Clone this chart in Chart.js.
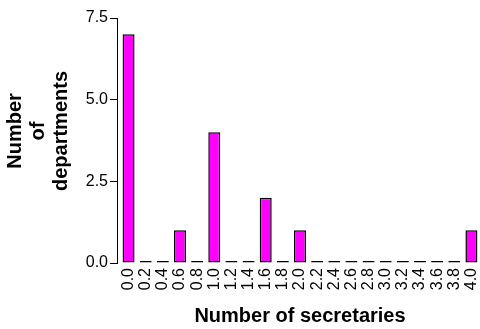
<!DOCTYPE html>
<html>
<head>
<meta charset="utf-8">
<script src="https://cdn.jsdelivr.net/npm/chart.js@4.4.1/dist/chart.umd.min.js"></script>
<style>
  html, body { margin: 0; padding: 0; background: #ffffff; }
  #wrap { width: 480px; height: 329px; }
</style>
</head>
<body>
<div id="wrap"><canvas id="chart" width="480" height="329"></canvas></div>
<script>
// Histogram: how many departments have a given number of secretaries
const secretaries = ['0.0', '0.2', '0.4', '0.6', '0.8', '1.0', '1.2', '1.4', '1.6', '1.8', '2.0',
                     '2.2', '2.4', '2.6', '2.8', '3.0', '3.2', '3.4', '3.6', '3.8', '4.0'];
const departments = [7, 0, 0, 1, 0, 4, 0, 0, 2, 0, 1, 0, 0, 0, 0, 0, 0, 0, 0, 0, 1];
const yTickValues = [0, 2.5, 5.0, 7.5];
const xTitle = 'Number of secretaries';
const yTitleLines = ['Number', 'of', 'departments'];

const FONT = "'Liberation Sans', Arial, Helvetica, sans-serif";

// Detach the y axis line a few pixels from the first bar
const axisGap = {
  id: 'axisGap',
  afterLayout(chart) {
    const y = chart.scales.y;
    y.left -= 3;
    y.right -= 3;
  }
};

// Three-line rotated title for the value axis
const yTitle = {
  id: 'yTitle',
  afterDraw(chart) {
    const ctx = chart.ctx;
    const cx = 38, cy = 131, lh = 23;
    ctx.save();
    ctx.translate(cx, cy);
    ctx.rotate(-Math.PI / 2);
    ctx.fillStyle = '#000';
    ctx.font = 'bold 20px ' + FONT;
    ctx.textAlign = 'center';
    ctx.textBaseline = 'middle';
    const n = yTitleLines.length;
    yTitleLines.forEach((t, i) => {
      ctx.fillText(t, 0, (i - (n - 1) / 2) * lh);
    });
    ctx.restore();
  }
};

new Chart(document.getElementById('chart'), {
  type: 'bar',
  data: {
    labels: secretaries,
    datasets: [{
      data: departments,
      backgroundColor: '#ff00ff',
      borderColor: '#000000',
      borderWidth: 1.5,
      borderSkipped: false,
      minBarLength: 2,
      categoryPercentage: 1.0,
      barPercentage: 0.7
    }]
  },
  options: {
    responsive: false,
    animation: false,
    devicePixelRatio: 1,
    layout: { padding: { top: 18, right: 0, bottom: 0, left: 0 } },
    plugins: {
      legend: { display: false },
      tooltip: { enabled: false }
    },
    scales: {
      x: {
        grid: { display: false, drawTicks: false },
        border: { display: false },
        ticks: {
          color: '#000',
          font: { family: FONT, size: 16 },
          minRotation: 90,
          maxRotation: 90,
          autoSkip: false,
          padding: 5
        },
        title: {
          display: true,
          text: xTitle,
          color: '#000',
          font: { family: FONT, size: 20, weight: 'bold' },
          padding: { top: 0, bottom: 1 }
        },
        afterFit(scale) {
          scale.height = 66;
          scale.paddingLeft = 0;
          scale.paddingRight = 0;
        }
      },
      y: {
        min: 0,
        max: 7.5,
        grid: { display: true, drawOnChartArea: false, color: '#000', tickLength: 7, tickWidth: 1 },
        border: { display: true, color: '#000', width: 1 },
        afterBuildTicks(scale) { scale.ticks = yTickValues.map(v => ({ value: v })); },
        ticks: {
          color: '#000',
          font: { family: FONT, size: 16 },
          padding: 2,
          callback: (v) => Number(v).toFixed(1)
        },
        afterFit(scale) { scale.width = 120; }
      }
    }
  },
  plugins: [axisGap, yTitle]
});
</script>
</body>
</html>
